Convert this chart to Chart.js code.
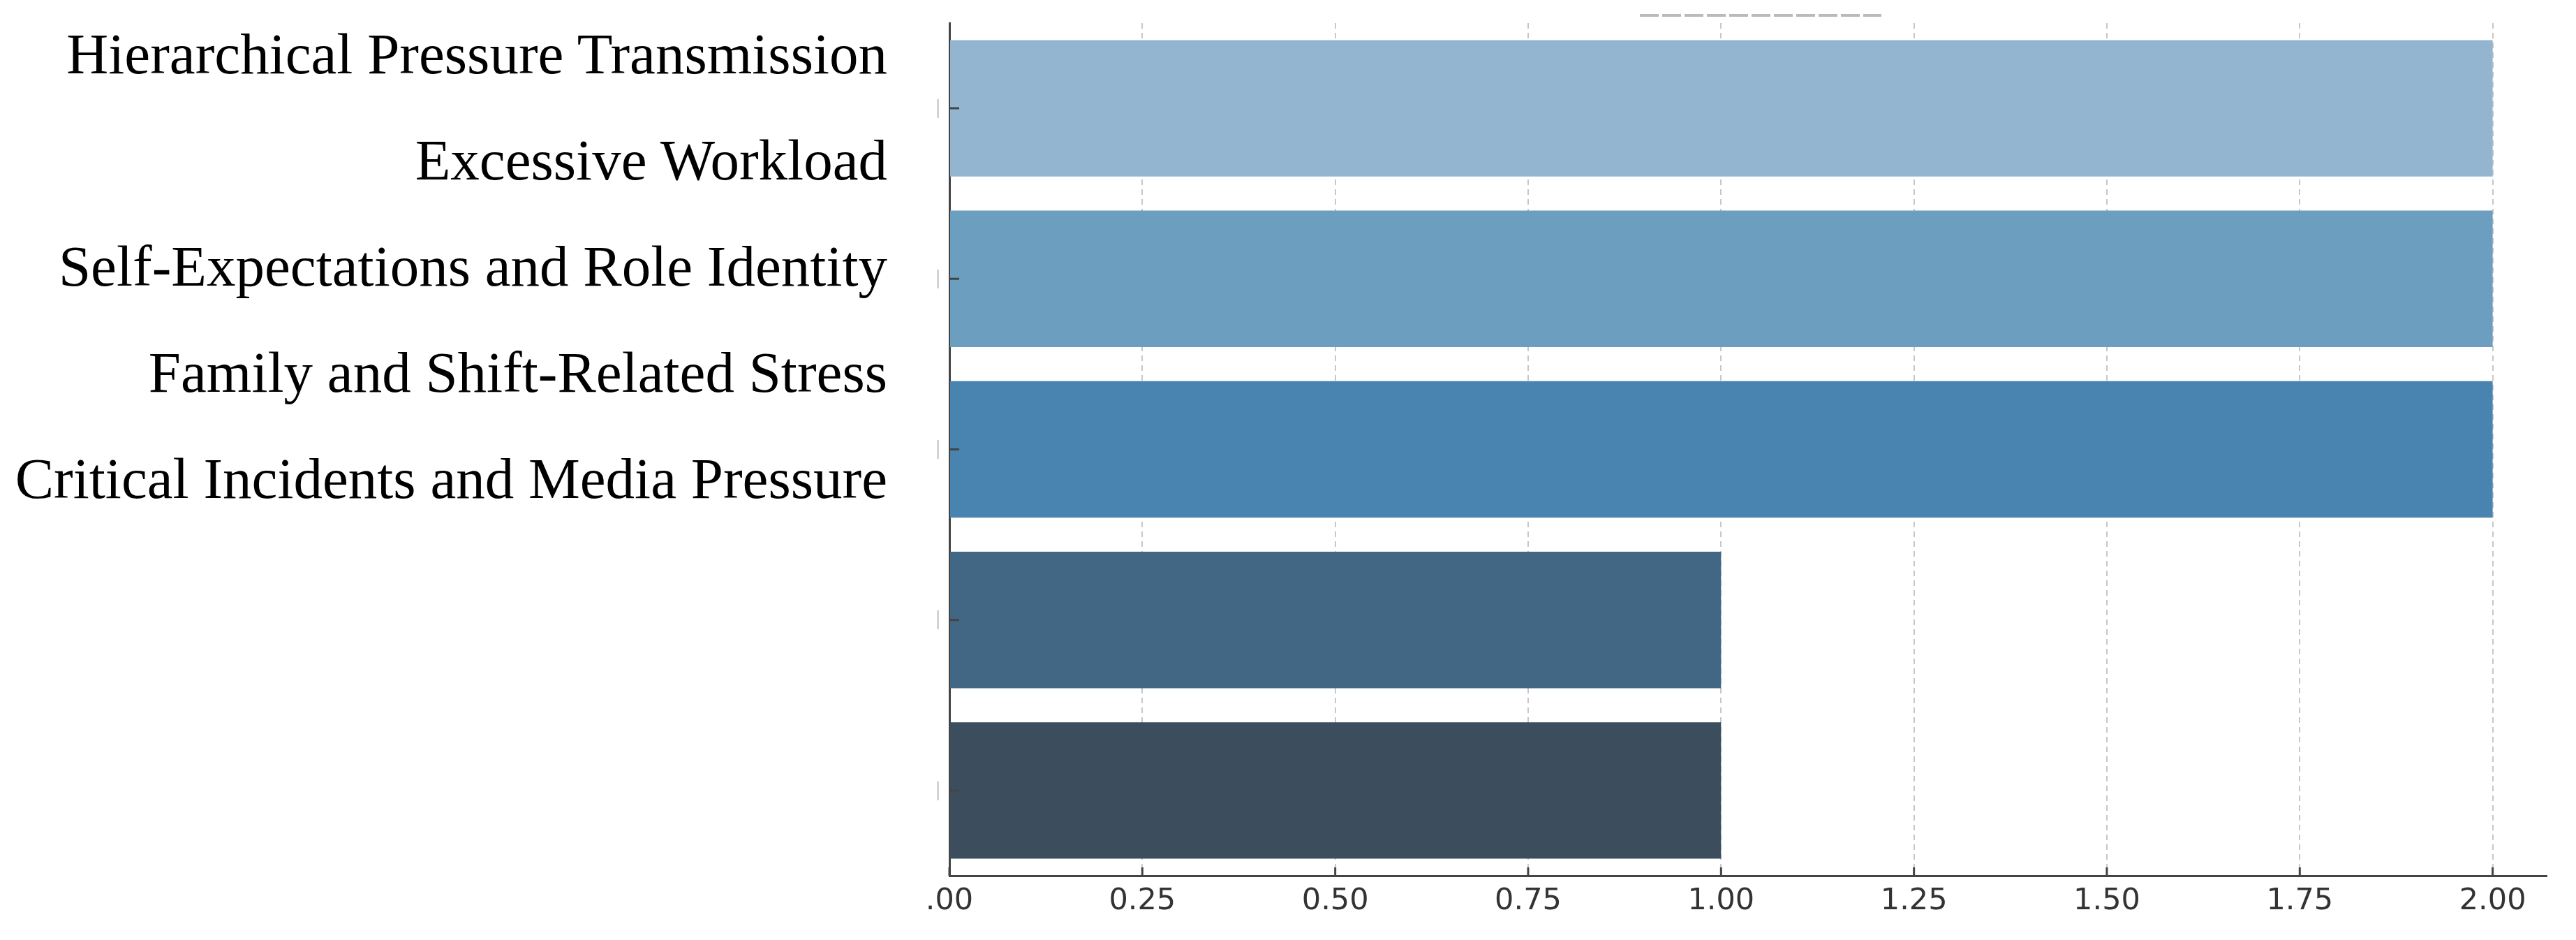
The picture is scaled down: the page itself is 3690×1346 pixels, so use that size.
<!DOCTYPE html>
<html>
<head>
<meta charset="utf-8">
<script src="https://cdn.jsdelivr.net/npm/chart.js@4"></script>
<style>
  html, body { margin: 0; padding: 0; background: #fff; }
  #wrap { position: relative; width: 3690px; height: 1346px; }
  #names {
    position: absolute; top: 1px; right: 2419px;
    font-family: 'Liberation Serif', serif; font-size: 83px; color: #000;
    text-align: right; line-height: 152px; white-space: nowrap;
  }
  #dash {
    position: absolute; left: 2349px; top: 20px; width: 346px; height: 4px;
    background: repeating-linear-gradient(to right, #bababa 0 27px, transparent 27px 32px);
  }
</style>
</head>
<body>
<div id="wrap">
  <canvas id="stressChart"></canvas>
  <div id="names"></div>
  <div id="dash"></div>
</div>
<script>
// categories, top to bottom
const categories = [
  'Hierarchical Pressure Transmission',
  'Excessive Workload',
  'Self-Expectations and Role Identity',
  'Family and Shift-Related Stress',
  'Critical Incidents and Media Pressure'
];
const counts = [2, 2, 2, 1, 1];
const barColors = ['#93B5CF', '#6C9EC0', '#4984B0', '#426784', '#3C4E5D'];
const xTickValues = [0, 0.25, 0.5, 0.75, 1, 1.25, 1.5, 1.75, 2];
const xTickLabels = ['.00', '0.25', '0.50', '0.75', '1.00', '1.25', '1.50', '1.75', '2.00'];

document.getElementById('names').innerHTML =
  categories.map(c => `<div>${c}</div>`).join('');

// matplotlib style ticks pointing into the plot
const inwardTicks = {
  id: 'inwardTicks',
  afterDraw(chart) {
    const { ctx, chartArea } = chart;
    const xs = chart.scales.x, ys = chart.scales.y;
    ctx.save();
    ctx.strokeStyle = '#444';
    ctx.lineWidth = 3;
    ctx.beginPath();
    xs.ticks.forEach((t, i) => {
      const px = xs.getPixelForTick(i);
      ctx.moveTo(px, chartArea.bottom);
      ctx.lineTo(px, chartArea.bottom - 12);
    });
    ys.ticks.forEach((t, i) => {
      const py = ys.getPixelForTick(i);
      ctx.moveTo(chartArea.left, py);
      ctx.lineTo(chartArea.left + 14, py);
    });
    ctx.stroke();
    ctx.restore();
  }
};

new Chart(document.getElementById('stressChart'), {
  type: 'bar',
  data: {
    labels: categories,
    datasets: [{
      data: counts,
      backgroundColor: barColors,
      borderWidth: 0,
      barPercentage: 0.8,
      categoryPercentage: 1.0,
    }]
  },
  options: {
    indexAxis: 'y',
    responsive: true,
    maintainAspectRatio: false,
    animation: false,
    layout: { padding: { left: 0, top: 33, right: 42, bottom: 0 } },
    plugins: { legend: { display: false }, tooltip: { enabled: false } },
    scales: {
      x: {
        type: 'linear',
        min: 0,
        max: 2.07,
        z: 1,
        afterBuildTicks: s => { s.ticks = xTickValues.map(v => ({ value: v })); },
        afterFit: s => { s.height = 92; },
        ticks: {
          callback: (v, i) => xTickLabels[i],
          color: '#333',
          font: { family: 'DejaVu Sans', size: 43 },
          padding: 11,
          maxRotation: 0,
        },
        grid: {
          drawTicks: false,
          color: ctx => ctx.index === 0 ? 'rgba(0,0,0,0)' : 'rgba(185,185,185,0.8)',
          lineWidth: 2,
        },
        border: { display: true, color: '#444', width: 3, dash: [8, 6] },
      },
      y: {
        z: 2,
        afterFit: s => { s.width = 1360; },
        ticks: {
          callback: () => '|',
          color: '#c4c4c4',
          font: { family: 'DejaVu Sans', size: 26 },
          padding: 12,
        },
        grid: { display: false, drawTicks: false },
        border: { display: true, color: '#444', width: 3 },
      }
    }
  },
  plugins: [inwardTicks]
});
</script>
</body>
</html>
